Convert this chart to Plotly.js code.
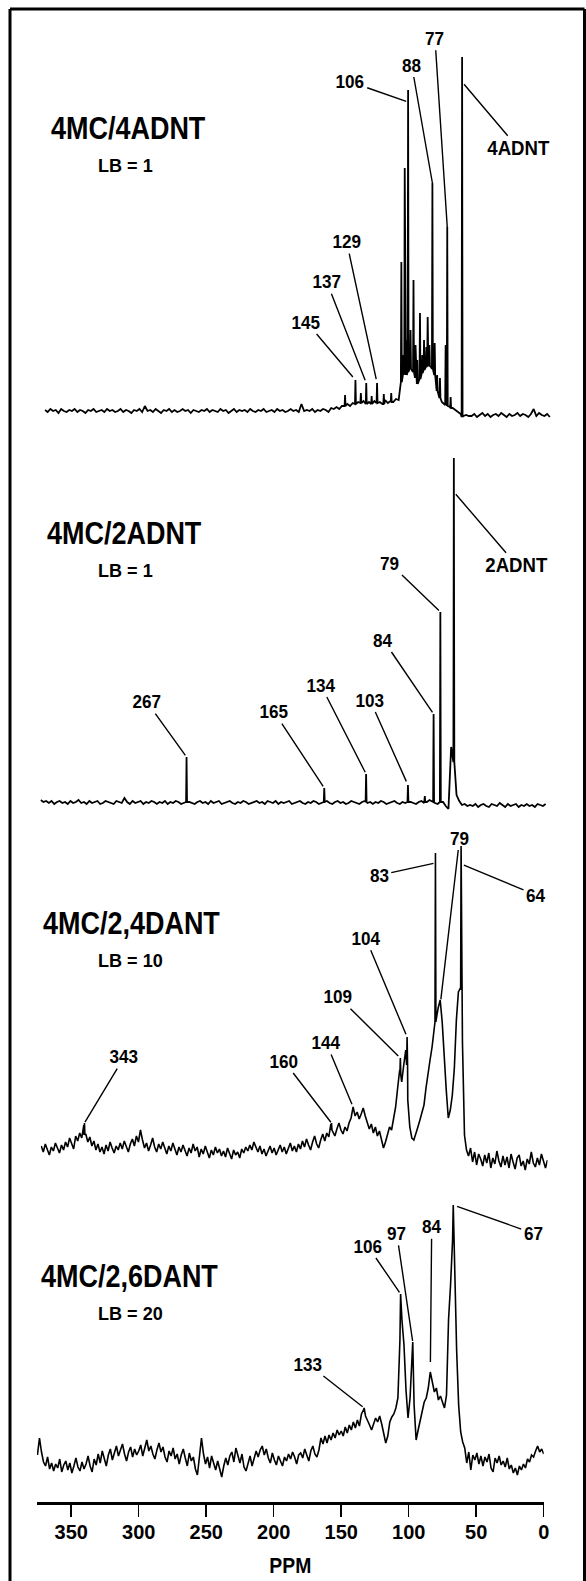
<!DOCTYPE html>
<html>
<head>
<meta charset="utf-8">
<script src="https://cdn.plot.ly/plotly-3.0.1.min.js"></script>
<style>
  html, body { margin: 0; padding: 0; background: #fff; }
  #chart { width: 586px; height: 1581px; }
</style>
</head>
<body>
<div id="chart"></div>
<script>
// ---------------------------------------------------------------
// 13C NMR spectra of 4MC adducts, intensity in arbitrary units.
// Each spectrum = samples on a regular ppm grid + narrow lines
// given as [ppm, top] or [ppm, top, foot].
// ---------------------------------------------------------------

// 4MC/4ADNT, LB = 1
const p1Start = 375, p1Step = 2;
const p1Values = [
  5,3,6,4,5,2,6,4,3,5,4,6,3,5,4,2,5,4,
  6,3,4,5,3,6,4,5,3,4,6,3,5,4,2,5,4,6,3,9,
  4,5,3,6,4,2,5,4,6,3,5,3,4,6,4,5,2,5,4,3,
  5,4,6,3,5,4,3,6,4,5,2,4,6,3,5,4,5,3,6,4,
  3,5,4,6,3,4,5,3,6,4,5,3,4,6,4,5,3,11,4,5,
  4,6,3,5,4,6,5,3,7,6,8,6,9,7,11,9,12,10,13,11,
  14,11,13,10,14,12,13,11,15,12,14,13,16,15,
  34,42,40,47,44,38,30,36,43,47,50,48,40,26,18,13,11,9,8,7,5,3,1,-1,0,-1,
  -1,1,-2,0,2,-1,1,-2,0,1,-1,2,0,-2,1,-1,0,2,-1,1,0,-2,1,6,-1,2,0,-1,1,-2
];
const p1Lines = [
  [152.7,20,9],[145,35,11],[141,22,12],[137,32,11],[133,19,11],[129,32,12],[124,21,11],[118.5,22,13],
  [111,153,33],[109.5,60,40],[108.5,247,41],[107.3,75,40],[106,325,43],[104.2,85,46],[102,135,43],
  [100.5,70,38],[99.2,55,31],[97.2,102,36],[95.5,60,42],[94.2,75,45],[92.5,68,48],[91.5,98,50],
  [90.2,70,49],[88,232,46],[86.3,72,40],[84.5,40,24],[82.4,37,17],[78.2,70,10],[77,188,9],
  [74.5,18,7],[66,358,-2]
];
const p1LabelText = ['4ADNT','77','88','106','129','137','145'];
const p1LabelPpm  = [66, 77, 88, 106, 129, 137, 145];

// 4MC/2ADNT, LB = 1
const p2Start = 375, p2Step = 2;
const p2Values = [
  3,1,2,0,2,-1,1,2,0,1,-1,2,0,1,3,0,1,-1,2,0,
  1,2,-1,0,2,1,0,-1,2,1,0,5,1,-1,2,0,1,2,-1,1,
  0,2,1,-1,1,0,2,-1,1,0,2,1,-1,0,2,1,0,-1,1,2,
  0,1,-1,2,0,1,2,-1,0,1,2,0,-1,1,0,2,1,-1,0,1,
  2,0,1,-1,2,1,0,2,-1,1,0,1,2,-1,0,1,2,0,-1,1,
  0,2,1,-1,0,1,2,0,-1,1,2,0,1,-1,0,2,1,0,-1,1,
  2,0,1,-1,1,0,2,1,-1,0,1,2,0,-1,1,0,2,1,0,-1,
  1,2,0,1,3,1,0,-1,2,1,-3,-6,56,45,8,2,-2,-1,-3,-2,
  -3,-1,-4,-2,-1,-3,-4,-1,-2,-3,0,-2,-4,-1,-3,-2,-1,-4,-2,-3,
  -1,-3,-2,-4,-1,-2,-3,-1
];
const p2Lines = [
  [267,46,1],[165,15,1],[134,29,1],[103,18,1],[90.5,7,1],[84,89,1],[79,191,1],[69,345,41]
];
const p2LabelText = ['2ADNT','79','84','103','134','165','267'];
const p2LabelPpm  = [69, 79, 84, 103, 134, 165, 267];

// 4MC/2,4DANT, LB = 10
const p3Start = 375, p3Step = 1.5;
const p3Values = [
  14,8,16,11,5,13,9,17,12,7,
  15,10,18,13,22,16,11,24,19,27,
  22,35,26,18,23,14,19,10,16,8,
  13,6,15,9,18,12,7,14,10,17,
  11,19,13,8,16,21,14,24,18,30,
  20,12,17,9,15,22,13,8,16,11,
  18,12,6,14,9,17,11,5,13,8,
  15,10,4,12,7,16,9,13,3,11,
  6,14,8,2,10,5,13,7,11,4,
  9,3,12,6,1,10,5,8,2,11,
  7,13,9,15,10,18,12,8,14,6,
  11,4,9,14,7,12,5,10,15,8,
  13,6,11,17,9,14,8,16,11,19,
  13,21,15,10,18,24,16,12,20,26,
  19,27,23,36,28,24,31,37,30,26,
  33,29,37,42,53,44,48,41,46,52,
  44,38,31,36,27,33,24,29,20,12,
  18,27,33,30,40,53,72,90,78,95,
  110,60,33,22,20,28,33,40,48,55,
  72,88,100,113,128,140,152,160,138,100,
  70,42,50,65,92,140,168,172,118,25,
  10,4,12,-2,8,-5,6,1,-6,5,
  -3,7,-8,2,-4,9,-1,-7,4,-5,
  3,-8,6,-2,-9,2,5,-6,-1,-10,
  1,-4,8,-3,-7,2,-5,6,-2,-8,
  0
];
const p3Lines = [
  [343,37,25],[160,37,30],[109,102,85],[104,123,95],[83,307,138],[64,314,170]
];
const p3LabelText = ['79','83','64','104','109','144','160','343'];
const p3LabelPpm  = [79, 83, 64, 104, 109, 144, 160, 343];

// 4MC/2,6DANT, LB = 20
const p4Start = 375, p4Step = 1.5;
const p4Values = [
  5,22,8,-2,-6,3,-9,-3,-11,-4,
  -8,1,-12,-5,-1,-10,-3,-13,-6,2,
  -7,-11,-2,-9,-4,4,-6,-12,1,-5,
  6,-3,9,2,-6,5,11,0,7,14,
  4,10,16,6,-1,8,13,3,11,5,
  9,15,4,12,20,9,14,6,1,10,
  17,8,13,3,-2,9,4,12,1,6,
  -4,5,11,2,-6,7,-1,3,-9,-15,
  2,22,6,-4,3,-8,4,-3,-10,-1,
  -9,-17,-6,2,-5,4,8,-2,12,5,
  -3,6,-7,-11,-2,4,-6,1,9,3,
  10,14,5,11,2,-3,7,0,-5,4,
  -2,-6,3,-1,6,1,8,3,-4,5,
  7,2,11,4,-1,9,14,6,3,10,
  22,16,24,17,25,20,27,22,30,25,
  29,24,33,27,35,30,38,32,40,34,
  46,50,44,40,35,30,36,42,38,44,
  36,26,17,24,38,43,46,52,62,120,
  140,115,70,42,62,100,55,20,30,40,
  48,58,62,72,86,78,68,72,60,64,
  58,52,65,140,175,220,195,110,55,28,
  18,12,-3,8,-10,5,0,7,-4,4,
  -6,3,-2,6,-8,-12,2,-3,4,-5,
  -1,-7,2,-9,-5,-13,-8,-15,-6,-10,
  -4,-8,1,-2,5,3,9,14,8,11,
  6
];
const p4Lines = [[133,52],[106,166],[97,118],[84,88],[67,255]];
const p4LabelText = ['67','84','97','106','133'];
const p4LabelPpm  = [67, 84, 97, 106, 133];

const sampleNames = ['4MC/4ADNT','4MC/2ADNT','4MC/2,4DANT','4MC/2,6DANT'];
const lbText = ['LB = 1','LB = 1','LB = 10','LB = 20'];
const axisTicks = [350, 300, 250, 200, 150, 100, 50, 0];

// ---------------------------------------------------------------
// page geometry (pixels)
// ---------------------------------------------------------------
const W = 586, H = 1581;
const PX_PER_PPM = 1.35;
const PPM_MAX = 375.4;
const LINE_HALF = 0.35;   // half width of a narrow line, ppm

// zero-ppm position, baseline row and vertical extent of each trace
const geom = [
  {zeroPx: 551.2, basePy: 415,  topPy: 25,   bottomPy: 440,
   nameX: 48.6, nameY: 129, lbY: 166},
  {zeroPx: 547.0, basePy: 803,  topPy: 440,  bottomPy: 830,
   nameX: 44.8, nameY: 533, lbY: 570},
  {zeroPx: 547.5, basePy: 1160, topPy: 830,  bottomPy: 1195,
   nameX: 41.0, nameY: 923.5, lbY: 960.5},
  {zeroPx: 543.7, basePy: 1460, topPy: 1195, bottomPy: 1501.7,
   nameX: 39.2, nameY: 1276, lbY: 1313}
];
const LB_X = 96.4;

// leader geometry per label: [dx, dy, drop below top, standoff] in px
const leaders = [
  [[56.2,66.3,25,3],[-12.3,-188.7,0,0],[-20.7,-118,0,0],[-58.4,-20.3,12,2],
   [-30.4,-141.3,0,4],[-39.5,-101.3,0,3],[-49,-58,0,4]],
  [[62.9,73.3,34,3],[-50.4,-48.7,0,2],[-50.3,-74,0,2],[-38,-85,0,4],
   [-45.4,-89,0,2],[-50.3,-76.3,0,2],[-39.9,-55.3,0,2]],
  [[18.8,-161.3,-8,0],[-56.2,12.3,10,2],[74.9,31,18,3],[-41.4,-98.7,0,3],
   [-62,-61.3,0,3],[-27,-64.5,0,3],[-47.5,-62,0,1],[40,-66.3,0,1]],
  [[80,28.3,0,4],[1.4,-145.3,0,10],[-16,-108.7,0,1],[-32.9,-48,0,2],[-56,-44,0,2]]
];

// condensed sans: Liberation Sans Bold narrowed per text kind
const FONT = 'Liberation Sans, Arial, Helvetica, sans-serif';
const NARROW = {name: 0.87, lb: 0.95, num: 0.9, word: 0.93, tick: 0.93, title: 0.88};

function buildSpectrum(start, step, values, lines) {
  const grid = values.map((v, i) => [start - i * step, v]);
  const kept = grid.filter(([x]) => !lines.some(l => Math.abs(x - l[0]) <= LINE_HALF + 1e-9));
  lines.forEach(l => {
    if (l.length === 3) {
      kept.push([l[0] + LINE_HALF, l[2]], [l[0], l[1]], [l[0] - LINE_HALF, l[2]]);
    } else {
      kept.push([l[0], l[1]]);
    }
  });
  kept.sort((a, b) => b[0] - a[0]);
  return {x: kept.map(p => p[0]), y: kept.map(p => p[1])};
}

function valueAt(s, ppm) {
  for (let i = 0; i < s.x.length; i++) {
    if (Math.abs(s.x[i] - ppm) < 1e-9) return s.y[i];
    if (i > 0 && s.x[i - 1] > ppm && s.x[i] < ppm) {
      const t = (s.x[i - 1] - ppm) / (s.x[i - 1] - s.x[i]);
      return s.y[i - 1] + t * (s.y[i] - s.y[i - 1]);
    }
  }
  return 0;
}

const spectra = [
  buildSpectrum(p1Start, p1Step, p1Values, p1Lines),
  buildSpectrum(p2Start, p2Step, p2Values, p2Lines),
  buildSpectrum(p3Start, p3Step, p3Values, p3Lines),
  buildSpectrum(p4Start, p4Step, p4Values, p4Lines)
];
const labelTexts = [p1LabelText, p2LabelText, p3LabelText, p4LabelText];
const labelPpms  = [p1LabelPpm, p2LabelPpm, p3LabelPpm, p4LabelPpm];
const lineWidths = [1.8, 1.8, 1.6, 1.6];

const traces = [];
const layout = {
  width: W, height: H,
  margin: {l: 0, r: 0, t: 0, b: 0, pad: 0},
  paper_bgcolor: '#fff', plot_bgcolor: 'rgba(0,0,0,0)',
  showlegend: false,
  annotations: [],
  shapes: []
};
// per-annotation narrowing: [factor, keepLeftEdge]
const annNarrow = [];

function bold(size) { return {family: FONT, size: size, color: '#000', weight: 'bold'}; }

geom.forEach((g, k) => {
  const sfx = k === 0 ? '' : String(k + 1);
  const s = spectra[k];
  traces.push({
    type: 'scatter', mode: 'lines', x: s.x, y: s.y,
    xaxis: 'x' + sfx, yaxis: 'y' + sfx,
    line: {color: '#000', width: lineWidths[k]},
    hoverinfo: 'skip'
  });

  const xa = {
    domain: [(g.zeroPx - PPM_MAX * PX_PER_PPM) / W, g.zeroPx / W],
    range: [PPM_MAX, 0],
    anchor: 'y' + sfx,
    showgrid: false, zeroline: false, fixedrange: true,
    visible: false
  };
  if (k === 3) {
    Object.assign(xa, {
      visible: true,
      showline: true, linecolor: '#000', linewidth: 3,
      ticks: 'outside', ticklen: 12, tickwidth: 1.5, tickcolor: '#000',
      tickmode: 'array', tickvals: axisTicks,
      ticklabelstandoff: -2,
      tickfont: bold(20),
      title: {text: 'PPM', standoff: 16, font: bold(22)},
      automargin: false
    });
  }
  const ya = {
    domain: [1 - g.bottomPy / H, 1 - g.topPy / H],
    range: [g.basePy - g.bottomPy, g.basePy - g.topPy],
    anchor: 'x' + sfx,
    visible: false, showgrid: false, zeroline: false, fixedrange: true
  };
  layout['xaxis' + sfx] = xa;
  layout['yaxis' + sfx] = ya;

  // sample name and line broadening
  layout.annotations.push({
    xref: 'paper', yref: 'paper', x: g.nameX / W, y: 1 - g.nameY / H,
    xanchor: 'left', yanchor: 'middle', showarrow: false,
    text: sampleNames[k], font: bold(31)
  });
  annNarrow.push([NARROW.name, true]);
  layout.annotations.push({
    xref: 'paper', yref: 'paper', x: LB_X / W, y: 1 - g.lbY / H,
    xanchor: 'left', yanchor: 'middle', showarrow: false,
    text: lbText[k], font: bold(19)
  });
  annNarrow.push([NARROW.lb, true]);

  // peak labels with leader lines
  labelTexts[k].forEach((t, j) => {
    const ppm = labelPpms[k][j];
    const [dx, dy, drop, stand] = leaders[k][j];
    const isWord = t.length > 3;
    layout.annotations.push({
      xref: 'x' + sfx, yref: 'y' + sfx,
      x: ppm, y: valueAt(s, ppm) - drop,
      text: t, showarrow: true, arrowhead: 0, arrowwidth: 1.4, arrowcolor: '#000',
      ax: dx, ay: dy, standoff: stand,
      font: bold(isWord ? 20 : 19)
    });
    annNarrow.push([isWord ? NARROW.word : NARROW.num, false]);
  });
});

// frame around the figure
const frame = {color: '#000', width: 3};
layout.shapes.push(
  {type: 'line', xref: 'paper', yref: 'paper', x0: 10 / W, x1: 10 / W, y0: 0, y1: 1 - 9 / H, line: frame},
  {type: 'line', xref: 'paper', yref: 'paper', x0: 10 / W, x1: 584.5 / W, y0: 1 - 9 / H, y1: 1 - 9 / H, line: frame},
  {type: 'line', xref: 'paper', yref: 'paper', x0: 584.5 / W, x1: 584.5 / W, y0: 0, y1: 1 - 9 / H, line: frame}
);

// narrow a text node horizontally, optionally keeping its left edge in place
function condense(t, f, keepLeft) {
  if (!t) return;
  const w = t.getComputedTextLength();
  if (!w) return;
  t.setAttribute('textLength', (w * f).toFixed(2));
  t.setAttribute('lengthAdjust', 'spacingAndGlyphs');
  if (keepLeft) {
    const x = parseFloat(t.getAttribute('x') || '0');
    t.setAttribute('x', (x - w * (1 - f) / 2).toFixed(2));
  }
}

Plotly.newPlot('chart', traces, layout, {staticPlot: true, displayModeBar: false}).then(gd => {
  gd.querySelectorAll('g.annotation').forEach(a => {
    const i = +a.getAttribute('data-index');
    const spec = annNarrow[i];
    if (spec) condense(a.querySelector('text.annotation-text'), spec[0], spec[1]);
  });
  gd.querySelectorAll('.xtick text').forEach(t => condense(t, NARROW.tick, false));
  gd.querySelectorAll('text.xtitle, text.x4title').forEach(t => condense(t, NARROW.title, false));
});
</script>
</body>
</html>
